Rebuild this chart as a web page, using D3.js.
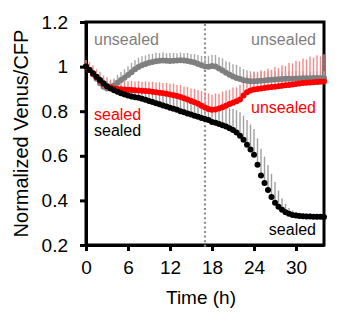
<!DOCTYPE html>
<html>
<head>
<meta charset="utf-8">
<script src="https://cdn.jsdelivr.net/npm/d3@7"></script>
<style>
  html, body { margin: 0; padding: 0; background: #fff; }
  svg { display: block; font-family: "Liberation Sans", Arial, sans-serif; }
</style>
</head>
<body>
<svg id="chart" width="357" height="322"></svg>
<script>
// Time points (h), every 30 min from 0 to 34 h
const times = [
  0, 0.5, 1, 1.5, 2, 2.5, 3, 3.5, 4, 4.5, 5, 5.5, 6, 6.5, 7, 7.5, 8, 8.5, 9, 9.5,
  10, 10.5, 11, 11.5, 12, 12.5, 13, 13.5, 14, 14.5, 15, 15.5, 16, 16.5, 17, 17.5,
  18, 18.5, 19, 19.5, 20, 20.5, 21, 21.5, 22, 22.5, 23, 23.5, 24, 24.5, 25, 25.5,
  26, 26.5, 27, 27.5, 28, 28.5, 29, 29.5, 30, 30.5, 31, 31.5, 32, 32.5, 33, 33.5, 34
];

// Always unsealed
const unsealedMean = [
  1.000, 0.985, 0.965, 0.945, 0.925, 0.910, 0.902, 0.905, 0.915, 0.928, 0.940, 0.950, 0.962, 0.975, 0.988, 0.998, 1.006, 1.012, 1.017, 1.021,
  1.024, 1.026, 1.027, 1.026, 1.025, 1.026, 1.027, 1.028, 1.027, 1.025, 1.022, 1.018, 1.012, 1.006, 1.000, 0.999,
  1.003, 1.000, 0.992, 0.982, 0.972, 0.964, 0.956, 0.949, 0.944, 0.939, 0.936, 0.934, 0.934, 0.935, 0.937, 0.938,
  0.940, 0.941, 0.942, 0.943, 0.944, 0.945, 0.946, 0.946, 0.947, 0.947, 0.948, 0.948, 0.948, 0.949, 0.949, 0.949, 0.949
];
const unsealedErr = [
  0.005, 0.008, 0.010, 0.012, 0.015, 0.020, 0.025, 0.030, 0.032, 0.035, 0.036, 0.038, 0.040, 0.042, 0.040, 0.042, 0.040, 0.038, 0.040, 0.036,
  0.038, 0.035, 0.037, 0.034, 0.036, 0.035, 0.033, 0.035, 0.034, 0.036, 0.035, 0.038, 0.040, 0.042, 0.045, 0.048,
  0.050, 0.052, 0.050, 0.055, 0.052, 0.056, 0.054, 0.058, 0.055, 0.050, 0.048, 0.045, 0.044, 0.042, 0.040, 0.040,
  0.038, 0.038, 0.036, 0.036, 0.035, 0.034, 0.034, 0.033, 0.033, 0.032, 0.032, 0.031, 0.031, 0.030, 0.030, 0.030, 0.030
];

// Sealed until 17 h, unsealed afterwards
const resealedMean = [
  1.000, 0.985, 0.968, 0.952, 0.937, 0.922, 0.912, 0.906, 0.902, 0.900, 0.898, 0.897, 0.896, 0.895, 0.894, 0.893, 0.892, 0.891, 0.889, 0.887,
  0.885, 0.883, 0.880, 0.878, 0.875, 0.872, 0.868, 0.864, 0.858, 0.852, 0.846, 0.840, 0.833, 0.825, 0.817, 0.810,
  0.806, 0.808, 0.812, 0.818, 0.825, 0.832, 0.838, 0.845, 0.852, 0.870, 0.885, 0.893, 0.897, 0.900, 0.902, 0.904,
  0.906, 0.908, 0.910, 0.912, 0.914, 0.916, 0.918, 0.920, 0.922, 0.924, 0.926, 0.928, 0.929, 0.930, 0.931, 0.932, 0.933
];
const resealedErr = [
  0.030, 0.035, 0.038, 0.036, 0.040, 0.038, 0.040, 0.036, 0.038, 0.040, 0.037, 0.040, 0.038, 0.041, 0.039, 0.042, 0.040, 0.043, 0.042, 0.045,
  0.044, 0.047, 0.046, 0.049, 0.048, 0.052, 0.050, 0.054, 0.053, 0.057, 0.056, 0.060, 0.062, 0.066, 0.068, 0.070,
  0.068, 0.072, 0.066, 0.070, 0.068, 0.064, 0.068, 0.062, 0.066, 0.070, 0.074, 0.070, 0.078, 0.072, 0.082, 0.076,
  0.084, 0.078, 0.088, 0.082, 0.092, 0.086, 0.098, 0.094, 0.104, 0.100, 0.110, 0.104, 0.116, 0.110, 0.120, 0.114, 0.122
];

// Always sealed
const sealedMean = [
  1.000, 0.985, 0.970, 0.955, 0.940, 0.925, 0.912, 0.902, 0.894, 0.887, 0.880, 0.875, 0.870, 0.866, 0.862, 0.860, 0.856, 0.851, 0.846, 0.841,
  0.836, 0.831, 0.826, 0.821, 0.816, 0.811, 0.806, 0.800, 0.795, 0.790, 0.785, 0.780, 0.775, 0.770, 0.765, 0.760,
  0.752, 0.748, 0.743, 0.737, 0.731, 0.724, 0.716, 0.704, 0.690, 0.672, 0.650, 0.628, 0.605, 0.560, 0.512, 0.478,
  0.447, 0.415, 0.390, 0.372, 0.358, 0.347, 0.340, 0.335, 0.332, 0.330, 0.329, 0.328, 0.328, 0.327, 0.327, 0.327, 0.326
];
const sealedErr = [
  0.010, 0.012, 0.015, 0.018, 0.020, 0.022, 0.025, 0.028, 0.030, 0.032, 0.034, 0.036, 0.038, 0.040, 0.042, 0.044, 0.046, 0.048, 0.050, 0.051,
  0.052, 0.053, 0.054, 0.055, 0.056, 0.057, 0.058, 0.059, 0.060, 0.061, 0.062, 0.063, 0.064, 0.065, 0.066, 0.068,
  0.070, 0.074, 0.078, 0.082, 0.086, 0.090, 0.095, 0.100, 0.105, 0.108, 0.110, 0.112, 0.115, 0.118, 0.120, 0.118,
  0.112, 0.104, 0.092, 0.072, 0.052, 0.038, 0.026, 0.020, 0.016, 0.015, 0.014, 0.014, 0.013, 0.013, 0.013, 0.012, 0.012
];

// Axis ticks
const xTicks = [0, 6, 12, 18, 24, 30];
const xTickLabels = ["0", "6", "12", "18", "24", "30"];
const yTicks = [0.2, 0.4, 0.6, 0.8, 1.0, 1.2];
const yTickLabels = ["0.2", "0.4", "0.6", "0.8", "1", "1.2"];

// Time at which the chamber was opened
const openTime = 17;

const svg = d3.select("#chart");
const W = 357, H = 322;
const margin = { left: 86, right: 33, top: 22, bottom: 77 };

const x = d3.scaleLinear().domain([0, 34]).range([margin.left, W - margin.right]);
const y = d3.scaleLinear().domain([0.2, 1.2]).range([H - margin.bottom, margin.top]);

const seriesList = [
  { name: "unsealed", mean: unsealedMean, err: unsealedErr, color: "#7f7f7f", barColor: "#a8a8a8" },
  { name: "resealed", mean: resealedMean, err: resealedErr, color: "#ff0000", barColor: "#f28a8c" },
  { name: "sealed",   mean: sealedMean,   err: sealedErr,   color: "#000000", barColor: "#a0a0a0" }
];

// Plot frame
svg.append("rect")
  .attr("x", x(0)).attr("y", y(1.2))
  .attr("width", x(34) - x(0)).attr("height", y(0.2) - y(1.2))
  .attr("fill", "none").attr("stroke", "#000").attr("stroke-width", 3);

// Axes
const tickFont = "19px";
const yAxis = svg.append("g")
  .attr("transform", `translate(${x(0)},0)`)
  .call(d3.axisLeft(y).tickValues(yTicks)
    .tickFormat((d, i) => yTickLabels[i]).tickSize(6).tickSizeOuter(0).tickPadding(12));
const xAxis = svg.append("g")
  .attr("transform", `translate(0,${y(0.2)})`)
  .call(d3.axisBottom(x).tickValues(xTicks)
    .tickFormat((d, i) => xTickLabels[i]).tickSize(6).tickSizeOuter(0).tickPadding(10));

[xAxis, yAxis].forEach(g => {
  g.select(".domain").attr("stroke", "#000").attr("stroke-width", 3);
  g.selectAll(".tick line").attr("stroke", "#000").attr("stroke-width", 3);
  g.selectAll(".tick text")
    .attr("fill", "#000")
    .style("font-family", '"Liberation Sans", Arial, sans-serif')
    .style("font-size", tickFont);
});

// Dotted marker for the opening time
svg.append("line")
  .attr("x1", x(openTime)).attr("x2", x(openTime))
  .attr("y1", y(1.2) + 2).attr("y2", y(0.2) + 4)
  .attr("stroke", "#8c8c8c").attr("stroke-width", 2.2)
  .attr("stroke-dasharray", "2,2.6");

// Error bars (upper side only)
seriesList.forEach(s => {
  svg.append("g").selectAll("line")
    .data(times.map((t, i) => ({ t, m: s.mean[i], e: s.err[i] })))
    .join("line")
    .attr("x1", d => x(d.t)).attr("x2", d => x(d.t))
    .attr("y1", d => y(d.m)).attr("y2", d => y(d.m + d.e))
    .attr("stroke", s.barColor).attr("stroke-width", 1.4);
});

// Mean markers
seriesList.forEach(s => {
  svg.append("g").selectAll("circle")
    .data(times.map((t, i) => ({ t, m: s.mean[i] })))
    .join("circle")
    .attr("cx", d => x(d.t)).attr("cy", d => y(d.m))
    .attr("r", 3)
    .attr("fill", s.color);
});

// Series labels
const labels = [
  { text: "unsealed", color: "#7f7f7f", px: 94,  py: 45,  anchor: "start" },
  { text: "unsealed", color: "#7f7f7f", px: 316, py: 45,  anchor: "end" },
  { text: "unsealed", color: "#ff0000", px: 316, py: 113, anchor: "end" },
  { text: "sealed",   color: "#ff0000", px: 94,  py: 120, anchor: "start" },
  { text: "sealed",   color: "#000000", px: 94,  py: 136, anchor: "start" },
  { text: "sealed",   color: "#000000", px: 316, py: 235, anchor: "end" }
];
svg.append("g").selectAll("text")
  .data(labels)
  .join("text")
  .attr("x", d => d.px).attr("y", d => d.py)
  .attr("text-anchor", d => d.anchor)
  .attr("fill", d => d.color)
  .style("font-size", "16px")
  .text(d => d.text);

// Axis titles
svg.append("text")
  .attr("x", (x(0) + x(34)) / 2 - 4).attr("y", 304)
  .attr("text-anchor", "middle")
  .style("font-size", "19px")
  .text("Time (h)");

svg.append("text")
  .attr("transform", `translate(28,${(y(0.2) + y(1.2)) / 2}) rotate(-90)`)
  .attr("text-anchor", "middle")
  .style("font-size", "20px")
  .text("Normalized Venus/CFP");
</script>
</body>
</html>
